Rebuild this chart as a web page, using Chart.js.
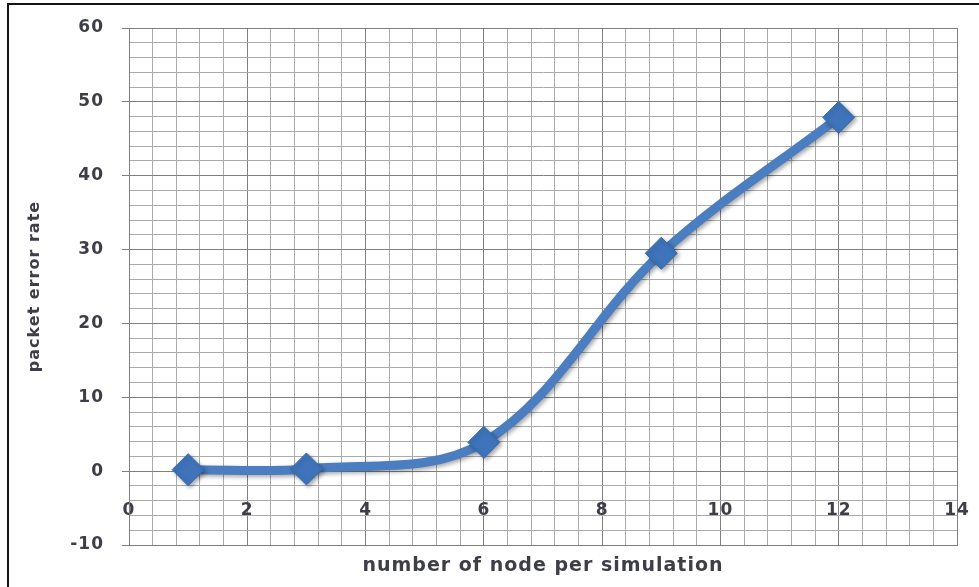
<!DOCTYPE html>
<html>
<head>
<meta charset="utf-8">
<script src="https://cdn.jsdelivr.net/npm/chart.js@4.4.1/dist/chart.umd.min.js"></script>
<style>
  html, body { margin: 0; padding: 0; background: #fff; }
  #wrap { position: relative; width: 979px; height: 587px; overflow: hidden; background: #fff; }
  #c { position: absolute; left: 0; top: 0; }
  #frame { position: absolute; left: 7px; top: 3px; width: 1200px; height: 800px;
           border-left: 2.5px solid #151515; border-top: 2.5px solid #151515; pointer-events: none; }
</style>
</head>
<body>
<div id="wrap">
  <canvas id="c" width="979" height="587"></canvas>
  <div id="frame"></div>
</div>
<script>
// Nodes per simulation and the measured packet error rate
const nodes = [1, 3, 6, 9, 12];
const packetErrorRate = [0.2, 0.3, 3.9, 29.5, 47.9];

// Labelled axis values (minor grid lines fall between them)
const xTickLabels = [0, 2, 4, 6, 8, 10, 12, 14];
const yTickLabels = [-10, 0, 10, 20, 30, 40, 50, 60];

const MAJOR = '#7f7f7f';
const MINOR = '#ababab';
const TEXT = '#3e3e48';
const near = (v, list) => list.some(t => Math.abs(t - v) < 1e-6);

const tickFont = { family: 'DejaVu Sans', size: 17, weight: 'bold' };

// Slightly wide lettering for every label on the canvas
const wideText = {
  id: 'wideText',
  beforeDraw(chart) { chart.ctx.letterSpacing = '1px'; }
};

// Soft drop shadow under the series line and markers
const softShadow = {
  id: 'softShadow',
  beforeDatasetsDraw(chart) {
    const ctx = chart.ctx;
    ctx.save();
    ctx.shadowColor = 'rgba(0,0,0,0.35)';
    ctx.shadowBlur = 4;
    ctx.shadowOffsetX = 2;
    ctx.shadowOffsetY = 2;
  },
  afterDatasetsDraw(chart) { chart.ctx.restore(); }
};

new Chart(document.getElementById('c'), {
  type: 'scatter',
  data: {
    datasets: [{
      data: nodes.map((n, i) => ({ x: n, y: packetErrorRate[i] })),
      showLine: true,
      tension: 0.35,
      borderColor: '#4a7ec0',
      borderWidth: 9,
      borderCapStyle: 'round',
      pointStyle: 'rectRot',
      pointRadius: 16,
      pointHoverRadius: 16,
      pointBackgroundColor: '#3f74bb',
      pointBorderColor: '#346aaf',
      pointBorderWidth: 1,
      clip: false
    }]
  },
  options: {
    responsive: false,
    animation: false,
    events: [],
    layout: { padding: { top: 28, right: 22, bottom: 0, left: 0 } },
    plugins: { legend: { display: false }, tooltip: { enabled: false } },
    scales: {
      x: {
        type: 'linear',
        position: 'bottom',
        min: 0, max: 14,
        ticks: { stepSize: 0.4, display: false, autoSkip: false },
        grid: {
          drawTicks: false,
          color: c => near(c.tick.value, xTickLabels) ? MAJOR : MINOR,
          lineWidth: 1
        },
        border: { display: true, color: MAJOR },
        title: {
          display: true,
          text: 'number of node per simulation',
          color: TEXT,
          font: { family: 'DejaVu Sans', size: 19, weight: 'bold' },
          padding: { top: 0, bottom: 10 }
        },
        afterFit(s) { s.height = 42; s.paddingLeft = 0; s.paddingRight = 0; }
      },
      // Category labels sit just under the zero line
      x2: {
        type: 'linear',
        axis: 'x',
        position: { y: 0 },
        min: 0, max: 14,
        ticks: {
          stepSize: 2,
          autoSkip: false,
          padding: 29,
          color: TEXT,
          font: tickFont,
          callback: v => near(v, xTickLabels) ? String(v) : ''
        },
        grid: { display: false, drawTicks: false },
        border: { display: false },
        afterFit(s) { s.height = 0; s.paddingLeft = 0; s.paddingRight = 0; }
      },
      y: {
        type: 'linear',
        position: 'left',
        min: -10, max: 60,
        ticks: {
          stepSize: 2,
          autoSkip: false,
          padding: 18,
          color: TEXT,
          font: tickFont,
          callback: v => near(v, yTickLabels) ? String(v) : ''
        },
        grid: {
          drawTicks: true,
          tickLength: 7,
          color: c => near(c.tick.value, yTickLabels) ? MAJOR : MINOR,
          tickColor: c => near(c.tick.value, yTickLabels) ? MAJOR : 'rgba(0,0,0,0)',
          lineWidth: 1
        },
        border: { display: true, color: MAJOR },
        title: {
          display: true,
          text: 'packet error rate',
          color: TEXT,
          font: { family: 'DejaVu Sans', size: 16, weight: 'bold' },
          padding: { top: 25, bottom: 0 }
        },
        afterFit(s) { s.width = 129; s.paddingTop = 0; s.paddingBottom = 0; }
      }
    }
  },
  plugins: [wideText, softShadow]
});
</script>
</body>
</html>
